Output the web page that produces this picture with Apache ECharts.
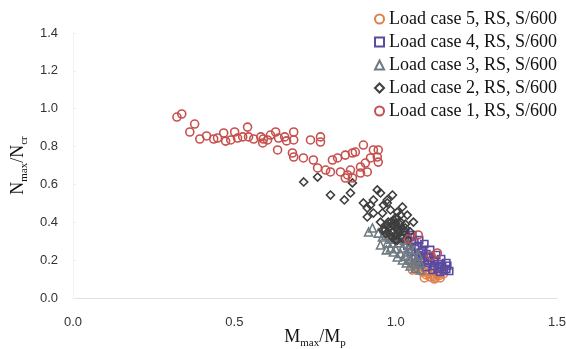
<!DOCTYPE html>
<html>
<head>
<meta charset="utf-8">
<script src="https://cdn.jsdelivr.net/npm/echarts@6/dist/echarts.min.js"></script>
<style>
  html, body { margin: 0; padding: 0; background: #fff; }
  #chart { width: 566px; height: 349px; }
</style>
</head>
<body>
<div id="chart"></div>
<script>
// Axis ticks
const xTicks = [0.0, 0.5, 1.0, 1.5];
const yTicks = [0.0, 0.2, 0.4, 0.6, 0.8, 1.0, 1.2, 1.4];

// Series names (legend order, top to bottom)
const seriesNames = [
  'Load case 5, RS, S/600',
  'Load case 4, RS, S/600',
  'Load case 3, RS, S/600',
  'Load case 2, RS, S/600',
  'Load case 1, RS, S/600'
];

// [Mmax/Mp, Nmax/Ncr] pairs
const lc1 = [
  [0.322,0.956],[0.337,0.972],[0.362,0.877],[0.377,0.919],[0.414,0.856],[0.436,0.840],
  [0.448,0.845],[0.467,0.872],[0.473,0.829],[0.489,0.835],[0.501,0.877],[0.510,0.845],
  [0.526,0.851],[0.541,0.903],[0.544,0.851],[0.560,0.840],[0.582,0.851],[0.588,0.819],
  [0.603,0.835],[0.612,0.861],[0.628,0.877],[0.634,0.782],[0.637,0.845],[0.656,0.851],
  [0.684,0.877],[0.684,0.835],[0.736,0.835],[0.767,0.851],[0.767,0.824],[0.680,0.766],
  [0.684,0.745],[0.714,0.740],[0.745,0.729],[0.758,0.687],[0.783,0.676],[0.798,0.666],
  [0.804,0.729],[0.820,0.740],[0.844,0.755],[0.866,0.766],[0.875,0.771],[0.900,0.808],
  [0.829,0.666],[0.860,0.676],[0.866,0.634],[0.891,0.692],[0.906,0.713],[0.922,0.740],
  [0.931,0.782],[0.946,0.782],[0.943,0.745],[0.946,0.718],[0.912,0.666],[0.891,0.660],
  [0.844,0.634],[0.851,0.650],[0.393,0.840],[0.590,0.840],[0.662,0.830],
  [1.070,0.333],[1.110,0.222],[1.129,0.238],[1.040,0.310]
];
const lc2 = [
  [0.715,0.613],[0.758,0.639],[0.798,0.544],[0.841,0.518],[0.860,0.555],[0.866,0.608],
  [0.900,0.502],[0.922,0.491],[0.943,0.571],[0.953,0.555],[0.990,0.544],[0.974,0.518],
  [0.984,0.465],[1.021,0.481],[1.036,0.438],[0.931,0.449],[0.912,0.428],[0.959,0.449],
  [0.931,0.518],[0.912,0.475],[0.974,0.502],[0.999,0.423],[1.015,0.401],[0.990,0.386],
  [1.008,0.349],[1.030,0.370],[0.984,0.333],[1.021,0.317],[1.002,0.370],[0.977,0.401],
  [1.045,0.349],[1.039,0.306],[0.999,0.306],[0.968,0.360],[0.953,0.401],[1.055,0.401],
  [1.015,0.438],[0.962,0.491],[1.005,0.454],
  [0.985,0.400],[0.995,0.380],[1.005,0.360],[1.012,0.390],[0.990,0.350],[1.000,0.330],
  [1.010,0.345],[1.020,0.370],[0.980,0.370],[0.975,0.385],[1.015,0.325],[1.025,0.350],
  [0.995,0.410],[1.005,0.420],[0.970,0.340],[0.960,0.360],[1.030,0.390],[1.000,0.395],
  [0.990,0.320],[1.005,0.305]
];
const lc3 = [
  [0.928,0.370],[0.946,0.343],[0.959,0.322],[0.974,0.291],[0.984,0.264],[0.993,0.243],
  [1.005,0.217],[1.021,0.201],[1.033,0.185],[1.045,0.169],[1.061,0.158],[1.076,0.148],
  [0.977,0.349],[0.993,0.317],[1.008,0.291],[1.021,0.264],[1.036,0.243],[1.052,0.222],
  [1.064,0.201],[1.076,0.185],[1.008,0.328],[1.027,0.306],[1.042,0.280],[1.058,0.254],
  [1.070,0.227],[0.965,0.370],[0.953,0.280],[0.971,0.254],[0.916,0.349],
  [0.990,0.290],[1.000,0.260],[1.015,0.235],[1.030,0.220],[1.045,0.200],[1.060,0.180],
  [0.985,0.310],[0.970,0.330],[1.040,0.260]
];
const lc4 = [
  [1.030,0.349],[1.045,0.322],[1.058,0.296],[1.070,0.275],[1.083,0.254],[1.095,0.232],
  [1.107,0.211],[1.120,0.195],[1.132,0.180],[1.144,0.164],[1.157,0.153],[1.166,0.143],
  [1.138,0.137],[1.114,0.148],[1.095,0.164],[1.076,0.190],[1.061,0.211],[1.049,0.243],
  [1.036,0.275],[1.086,0.211],[1.101,0.185],[1.120,0.169],[1.073,0.306],[1.089,0.285],
  [1.107,0.254],[1.126,0.227],[1.141,0.206],[1.157,0.185],[1.052,0.333],[1.015,0.333],
  [1.060,0.270],[1.080,0.240],[1.100,0.220],[1.120,0.200],[1.140,0.180],[1.160,0.170],
  [1.150,0.145],[1.130,0.155],[1.090,0.195],[1.070,0.225],[1.050,0.300]
];
const lc5 = [
  [1.045,0.190],[1.058,0.169],[1.070,0.153],[1.083,0.137],[1.095,0.122],[1.107,0.111],
  [1.123,0.106],[1.138,0.106],[1.114,0.127],[1.095,0.148],[1.076,0.169],[1.129,0.122],
  [1.148,0.127],[1.064,0.190],[1.089,0.106],[1.052,0.148],
  [1.100,0.130],[1.118,0.115],[1.135,0.118],[1.070,0.165],[1.080,0.150],[1.105,0.140],
  [1.120,0.100]
];

const seriesData = [lc5, lc4, lc3, lc2, lc1];
const seriesColors = ['#e0804c', '#5b4a9e', '#6f7a82', '#3e3e3e', '#c5504e'];
const seriesSymbols = ['circle', 'rect', 'triangle', 'diamond', 'circle'];
const seriesSizes = [8, 7, 8, 8, 8];

const chart = echarts.init(document.getElementById('chart'), null, { renderer: 'canvas' });

const serif = '"Liberation Serif", "DejaVu Serif", serif';
const sans = '"Liberation Sans", Arial, sans-serif';

const nameRich = {
  b: { fontFamily: serif, fontSize: 18, color: '#111', lineHeight: 20, verticalAlign: 'bottom' },
  s: { fontFamily: serif, fontSize: 11, color: '#111', lineHeight: 20, verticalAlign: 'bottom', padding: [0, 0, -3, 0] }
};

chart.setOption({
  animation: false,
  backgroundColor: '#fff',
  grid: { left: 73, right: 9, top: 33, bottom: 51, containLabel: false, outerBoundsMode: 'none' },
  legend: {
    orient: 'vertical',
    right: 4,
    top: 5,
    itemWidth: 9,
    itemHeight: 9,
    itemGap: 5,
    data: seriesNames,
    textStyle: { fontFamily: serif, fontSize: 18, color: '#111' }
  },
  xAxis: {
    type: 'value',
    min: 0, max: 1.5, interval: 0.5,
    name: '{b|M}{s|max}{b|/M}{s|p}',
    nameLocation: 'middle',
    nameGap: 28,
    nameMoveOverlap: false,
    nameTextStyle: { rich: nameRich },
    axisLine: { show: true, lineStyle: { color: '#e2e2e2', width: 1 } },
    axisTick: { show: false },
    splitLine: { show: false },
    axisLabel: {
      margin: 18,
      fontFamily: sans, fontSize: 13, color: '#333',
      formatter: v => xTicks.includes(+v.toFixed(1)) ? v.toFixed(1) : ''
    }
  },
  yAxis: {
    type: 'value',
    min: 0, max: 1.4, interval: 0.2,
    name: '{b|N}{s|max}{b|/N}{s|cr}',
    nameLocation: 'middle',
    nameGap: 46,
    nameRotate: 90,
    nameMoveOverlap: false,
    nameTextStyle: { rich: nameRich },
    axisLine: { show: true, lineStyle: { color: '#f2f2f2', width: 1 } },
    axisTick: { show: true, length: 3, inside: true, lineStyle: { color: '#eeeeee' } },
    splitLine: { show: false },
    axisLabel: {
      margin: 15,
      fontFamily: sans, fontSize: 13, color: '#333',
      formatter: v => yTicks.includes(+v.toFixed(1)) ? v.toFixed(1) : ''
    }
  },
  series: seriesData.map((d, i) => ({
    name: seriesNames[i],
    type: 'scatter',
    data: d,
    symbol: seriesSymbols[i],
    symbolSize: seriesSizes[i],
    itemStyle: {
      color: 'rgba(255,255,255,0)',
      borderColor: seriesColors[i],
      borderWidth: 1.6,
      opacity: 1
    },
    emphasis: { disabled: true }
  }))
});
</script>
</body>
</html>
